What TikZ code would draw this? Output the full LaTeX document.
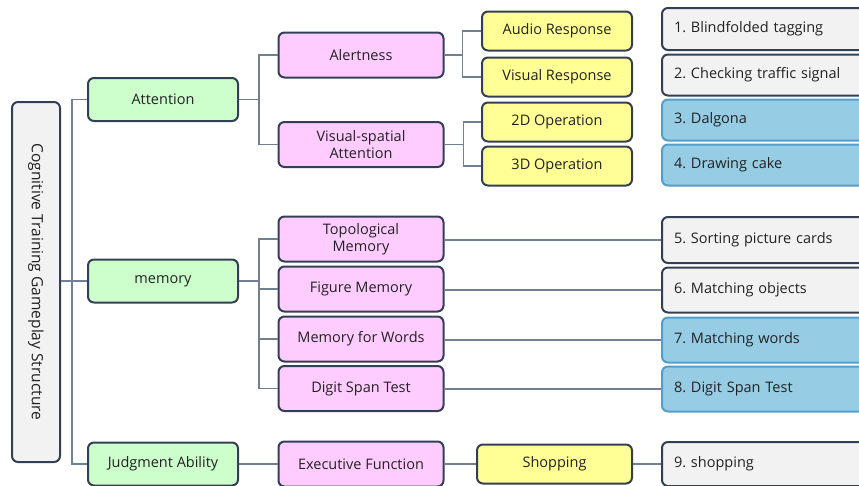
\documentclass[tikz,border=0pt]{standalone}
\usepackage{fontspec}
\setmainfont{Open Sans}
\usetikzlibrary{positioning}
\definecolor{cgink}{RGB}{52,62,84}
\definecolor{cgline}{RGB}{112,128,146}
\definecolor{cgtext}{RGB}{34,34,34}
\definecolor{cggreen}{RGB}{204,255,204}
\definecolor{cgpink}{RGB}{255,204,255}
\definecolor{cgyellow}{RGB}{255,255,150}
\definecolor{cgblue}{RGB}{150,205,228}
\definecolor{cgbluedge}{RGB}{84,158,204}
\definecolor{cggray}{RGB}{242,242,242}

\begin{document}
\begin{tikzpicture}[x=1pt,y=-1pt,font=\fontsize{14.5}{17.5}\selectfont,
  box/.style={draw=cgink,line width=2pt,rounded corners=6pt,text=cgtext,
    align=center,inner sep=2pt},
  area/.style={box,fill=cggreen,minimum width=150,minimum height=43},
  skill/.style={box,fill=cgpink,minimum width=165,minimum height=45},
  task/.style={box,fill=cgyellow,minimum width=150,minimum height=39},
  game/.style={box,anchor=west,text width=216,align=left,inner xsep=12pt},
  link/.style={draw=cgline,line width=1.2pt}]
  \useasboundingbox (0,0) rectangle (859,485);
  \clip (0,0) rectangle (859,485);
  % root and first level
  \node[box,fill=cggray,rotate=-90,minimum width=360,minimum height=48,
    font=\fontsize{15.5}{17}\selectfont]
    (root) at (36,282) {Cognitive Training Gameplay Structure};
  \node[area] (attn) at (163,99.5) {Attention};
  \node[area] (memo) at (163,281) {memory};
  \node[area] (judg) at (163,464) {Judgment Ability};
  % second level
  \node[skill] (alert)   at (361,55)    {Alertness};
  \node[skill] (vispat)  at (361,144.5) {Visual-spatial\\Attention};
  \node[skill] (topo)    at (361,239)   {Topological\\Memory};
  \node[skill] (figmem)  at (361,289)   {Figure Memory};
  \node[skill] (wordmem) at (361,339)   {Memory for Words};
  \node[skill] (digit)   at (361,388.5) {Digit Span Test};
  \node[skill] (exefn)   at (361,464)   {Executive Function};
  % third level
  \node[task] (audio)   at (557,31)  {Audio Response};
  \node[task] (visresp) at (557,77)  {Visual Response};
  \node[task] (op2d)    at (557,122) {2D Operation};
  \node[task] (op3d)    at (557,166) {3D Operation};
  \node[task,minimum width=155] (shop) at (554.5,464) {Shopping};
  % games
  \foreach \n/\y/\h/\fc/\dc/\t in {
      1/29/42/cggray/cgink/Blindfolded tagging,
      2/75/41/cggray/cgink/Checking traffic signal,
      3/120/41/cgblue/cgbluedge/Dalgona,
      4/165/41/cgblue/cgbluedge/Drawing cake,
      5/240/46/cggray/cgink/Sorting picture cards,
      6/290/45/cggray/cgink/Matching objects,
      7/340/45/cgblue/cgbluedge/Matching words,
      8/389/45/cgblue/cgbluedge/Digit Span Test,
      9/464/44/cggray/cgink/shopping}
    \node[game,fill=\fc,draw=\dc,minimum height=\h] (game\n) at (661,\y) {\n.\ \t};
  % connectors
  \draw[link] (attn.west) -- ++(-15,0) |- (judg.west);
  \draw[link] (root.north |- memo.west) -- (memo.west);
  \foreach \c in {alert,vispat}
    \draw[link] (attn.east) -- ++(20,0) |- (\c.west);
  \foreach \c in {topo,figmem,wordmem,digit}
    \draw[link] (memo.east) -- ++(20,0) |- (\c.west);
  \draw[link] (judg) -- (exefn);
  \foreach \c in {audio,visresp}
    \draw[link] (alert.east) -- ++(18,0) |- (\c.west);
  \foreach \c in {op2d,op3d}
    \draw[link] (vispat.east) -- ++(19,0) |- (\c.west);
  \draw[link] (exefn) -- (shop);
  \draw[link] (shop) -- (game9);
  \foreach \s/\g in {topo/game5,figmem/game6,wordmem/game7,digit/game8}
    \draw[link] (\s.east |- \g.west) -- (\g.west);
\end{tikzpicture}
\end{document}
